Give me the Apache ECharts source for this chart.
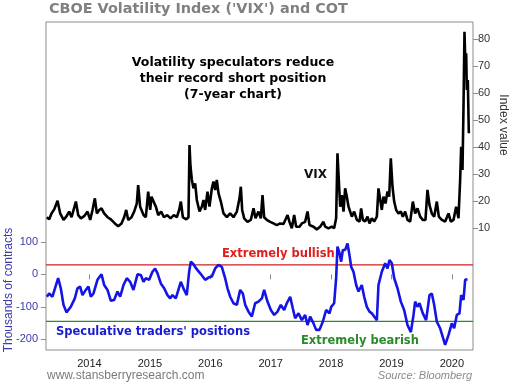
<!DOCTYPE html>
<html><head><meta charset="utf-8">
<script src="https://cdn.jsdelivr.net/npm/echarts@6/dist/echarts.min.js"></script>
<style>html,body{margin:0;padding:0;background:#fff}#c{width:510px;height:385px}</style>
</head><body><div id="c"></div>
<script>
// VIX (right axis): decimal-year dates and index values
const vixDates = [2013.294,2013.333,2013.371,2013.416,2013.471,2013.515,2013.570,2013.609,2013.664,2013.703,2013.775,2013.813,2013.858,2013.912,2013.967,2014.012,2014.050,2014.089,2014.122,2014.161,2014.199,2014.243,2014.299,2014.354,2014.420,2014.475,2014.530,2014.574,2014.608,2014.641,2014.696,2014.740,2014.784,2014.806,2014.839,2014.895,2014.933,2014.972,2015.005,2015.027,2015.060,2015.099,2015.138,2015.187,2015.232,2015.287,2015.342,2015.397,2015.446,2015.485,2015.513,2015.546,2015.601,2015.639,2015.656,2015.672,
2015.695,2015.722,2015.750,2015.777,2015.822,2015.860,2015.888,2015.915,2015.954,2015.987,2016.026,2016.053,2016.081,2016.108,2016.136,2016.175,2016.219,2016.274,2016.329,2016.384,2016.440,2016.484,2016.506,2016.528,2016.561,2016.616,2016.671,2016.716,2016.749,2016.798,2016.837,2016.865,2016.892,2016.936,2016.992,2017.047,2017.102,2017.157,2017.212,2017.279,2017.312,2017.350,2017.389,2017.422,2017.477,2017.516,2017.571,2017.610,2017.643,2017.709,2017.764,2017.819,2017.874,2017.902,2017.957,2018.012,2018.051,2018.084,
2018.106,2018.128,2018.151,2018.178,2018.206,2018.233,2018.261,2018.289,2018.316,2018.344,2018.382,2018.427,2018.471,2018.498,2018.526,2018.564,2018.603,2018.636,2018.675,2018.713,2018.758,2018.785,2018.813,2018.840,2018.868,2018.901,2018.934,2018.962,2018.989,2019.017,2019.045,2019.078,2019.116,2019.155,2019.188,2019.227,2019.265,2019.310,2019.354,2019.392,2019.431,2019.475,2019.519,2019.563,2019.596,2019.630,2019.668,2019.707,2019.751,2019.784,2019.834,2019.889,2019.944,2019.983,2020.027,2020.071,2020.110,2020.137,2020.154,2020.176,2020.192,2020.209,2020.226,2020.237,2020.248,2020.264,2020.281];
const vixValues = [14.1,13.3,15.5,17.0,20.2,15.5,13.1,14.1,16.2,14.1,19.9,14.9,13.7,14.5,16.2,13.1,16.8,21.1,15.5,16.8,17.4,15.5,14.1,13.3,11.8,10.8,11.8,14.1,16.8,13.1,14.1,16.2,19.2,26.0,18.0,14.9,14.1,23.6,16.8,21.7,21.1,18.0,14.9,16.2,14.1,14.9,13.7,14.9,14.1,16.8,19.9,14.1,13.3,14.1,40.8,33.0,
27.9,24.8,26.6,20.5,16.2,18.0,20.5,16.8,23.6,18.0,24.8,27.3,24.2,27.9,23.0,19.9,15.5,14.1,15.5,14.1,16.2,21.1,25.4,16.8,13.7,12.4,13.1,17.4,13.7,16.2,13.7,22.3,14.1,13.1,12.4,11.8,11.2,11.8,11.6,14.9,12.4,10.0,14.9,10.6,10.6,11.8,12.4,16.2,11.2,10.6,9.6,10.6,12.4,10.6,10.0,10.6,10.0,13.7,
37.8,27.9,18.0,22.3,16.2,24.8,21.7,18.0,17.4,14.3,16.2,13.1,12.5,17.4,13.1,12.5,14.3,11.8,13.7,12.5,14.3,24.8,24.2,16.8,21.7,19.2,23.6,21.7,35.9,25.4,19.9,16.8,15.5,16.2,14.3,16.2,13.1,12.5,19.9,15.5,17.4,14.3,13.1,13.1,24.2,18.6,15.5,14.3,19.9,14.3,13.1,12.5,15.5,12.5,13.1,18.0,13.7,27.9,40.2,31.6,53.8,82.8,68.6,74.8,61.2,64.9,45.2];

// COT speculative positions (left axis, thousands of contracts)
const cotDates = [2013.294,2013.332,2013.387,2013.481,2013.525,2013.570,2013.619,2013.691,2013.757,2013.801,2013.845,2013.884,2013.939,2013.983,2014.022,2014.066,2014.132,2014.199,2014.243,2014.298,2014.353,2014.408,2014.464,2014.508,2014.563,2014.618,2014.673,2014.728,2014.795,2014.850,2014.894,2014.933,2014.988,2015.043,2015.087,2015.126,2015.181,2015.236,2015.291,2015.336,2015.374,2015.429,2015.512,2015.567,2015.611,2015.650,2015.678,
2015.722,2015.766,2015.833,2015.915,2015.970,2016.026,2016.081,2016.136,2016.191,2016.246,2016.285,2016.329,2016.384,2016.440,2016.495,2016.539,2016.578,2016.633,2016.688,2016.743,2016.798,2016.854,2016.892,2016.947,2017.003,2017.058,2017.113,2017.168,2017.223,2017.267,2017.323,2017.367,2017.405,2017.461,2017.516,2017.571,2017.610,2017.654,2017.709,2017.753,2017.808,2017.863,2017.918,2017.974,
2018.002,2018.051,2018.084,2018.106,2018.140,2018.167,2018.195,2018.233,2018.272,2018.305,2018.333,2018.371,2018.416,2018.454,2018.509,2018.548,2018.592,2018.636,2018.675,2018.713,2018.758,2018.785,2018.840,2018.896,2018.934,2018.967,2019.006,2019.045,2019.100,2019.155,2019.210,2019.265,2019.321,2019.365,2019.392,2019.431,2019.464,2019.519,2019.574,2019.630,2019.668,2019.707,2019.751,2019.806,2019.889,2019.944,2019.999,2020.038,2020.082,2020.126,2020.154,2020.193,2020.220,2020.259];
const cotValues = [-69,-59,-69,-12,-43,-94,-117,-100,-74,-43,-38,-64,-48,-38,-69,-59,-17,0,-33,-48,-81,-79,-53,-69,-33,-12,-23,-48,0,-2,-23,-12,-17,8,18,3,-28,-43,-64,-74,-64,-74,-23,-48,-64,8,39,
31,18,3,-17,-10,-7,18,29,23,-12,-43,-69,-89,-94,-48,-59,-94,-115,-130,-89,-84,-74,-48,-84,-110,-125,-115,-94,-110,-89,-69,-105,-135,-120,-141,-125,-156,-130,-151,-171,-171,-146,-110,-120,
-100,-89,-12,85,65,39,75,75,95,59,23,8,-33,-53,-33,-69,-100,-115,-120,-130,-141,-33,8,34,18,44,34,-12,-43,-84,-110,-156,-178,-125,-84,-100,-89,-120,-141,-64,-59,-94,-146,-166,-217,-187,-151,-166,-125,-120,-64,-79,-17,-15];

const bullishLevel = 29;      // "Extremely bullish" threshold
const bearishLevel = -145;    // "Extremely bearish" threshold
const xRange = [2013.28, 2020.35];
const yearTicks = [2014,2015,2016,2017,2018,2019,2020];
const cotTicks = [-200,-100,0,100];
const vixTicks = [10,20,30,40,50,60,70,80];

const vixData = vixDates.map((d,i)=>[d, vixValues[i]]);
const cotData = cotDates.map((d,i)=>[d, cotValues[i]]);

function thresholdSeries(level, color){
  return {type:'line',yAxisIndex:0,silent:true,z:2,showSymbol:false,
    data:[[xRange[0],level],[xRange[1],level]],
    lineStyle:{color:color,width:1.2,type:'solid'}};
}

const chart = echarts.init(document.getElementById('c'), null, {renderer:'canvas'});
chart.setOption({
  animation:false,
  backgroundColor:'#fff',
  grid:{left:46,right:37,top:22,bottom:35,show:true,borderColor:'#8c8c8c',borderWidth:1,backgroundColor:'transparent'},
  xAxis:{type:'value',min:xRange[0],max:xRange[1],
    axisLine:{show:false},splitLine:{show:false},
    axisTick:{show:true,customValues:yearTicks,length:5,lineStyle:{color:'#8c8c8c'}},
    axisLabel:{customValues:yearTicks,formatter:v=>String(Math.round(v)),color:'#222',fontFamily:'Liberation Sans',fontSize:11,margin:8}},
  yAxis:[
    {type:'value',position:'left',min:-232.9,max:776.3,
      axisLine:{show:false},splitLine:{show:false},
      axisTick:{show:true,customValues:cotTicks,length:5,lineStyle:{color:'#8c8c8c'}},
      axisLabel:{customValues:cotTicks,color:'#3a3aa8',fontFamily:'Liberation Sans',fontSize:11,margin:8}},
    {type:'value',position:'right',min:-35.07,max:86.4,
      axisLine:{show:false},splitLine:{show:false},
      axisTick:{show:true,customValues:vixTicks,length:5,lineStyle:{color:'#8c8c8c'}},
      axisLabel:{customValues:vixTicks,color:'#333',fontFamily:'Liberation Sans',fontSize:11,margin:5}}
  ],
  series:[
    thresholdSeries(bullishLevel,'#d02020'),
    thresholdSeries(bearishLevel,'#2a8a2a'),
    {type:'line',yAxisIndex:1,data:vixData,showSymbol:false,lineStyle:{color:'#000',width:2.6},z:3},
    {type:'line',yAxisIndex:0,data:cotData,showSymbol:false,lineStyle:{color:'#1414e6',width:2.6},z:4}
  ],
  graphic:[
    {type:'text',left:49,top:2,style:{text:"CBOE Volatility Index ('VIX') and COT",fill:'#808080',font:'bold 14.4px "DejaVu Sans"'}},
    {type:'text',x:233,y:55,style:{text:'Volatility speculators reduce\ntheir record short position\n(7-year chart)',fill:'#000',font:'bold 12.5px "DejaVu Sans"',align:'center',lineHeight:16}},
    {type:'text',x:304,y:169,style:{text:'VIX',fill:'#111',font:'bold 12px "DejaVu Sans"'}},
    {type:'text',x:222,y:248,style:{text:'Extremely bullish',fill:'#e01c1c',font:'bold 11.5px "DejaVu Sans"'}},
    {type:'text',x:56,y:326,style:{text:"Speculative traders' positions",fill:'#1a1ad0',font:'bold 11.5px "DejaVu Sans"'}},
    {type:'text',x:301,y:335,style:{text:'Extremely bearish',fill:'#2a8a2a',font:'bold 11.5px "DejaVu Sans"'}},
    {type:'text',x:9,y:290,rotation:Math.PI/2,style:{text:'Thousands of contracts',fill:'#3a3aa8',font:'12px "Liberation Sans"',align:'center',verticalAlign:'middle'}},
    {type:'text',x:503,y:125,rotation:-Math.PI/2,style:{text:'Index value',fill:'#333',font:'12px "Liberation Sans"',align:'center',verticalAlign:'middle'}},
    {type:'text',x:47,y:370,style:{text:'www.stansberryresearch.com',fill:'#7a7a7a',font:'12px "Liberation Sans"'}},
    {type:'text',x:472,y:370,style:{text:'Source: Bloomberg',fill:'#8a8a8a',font:'italic 11px "Liberation Sans"',align:'right'}}
  ]
});
</script></body></html>
